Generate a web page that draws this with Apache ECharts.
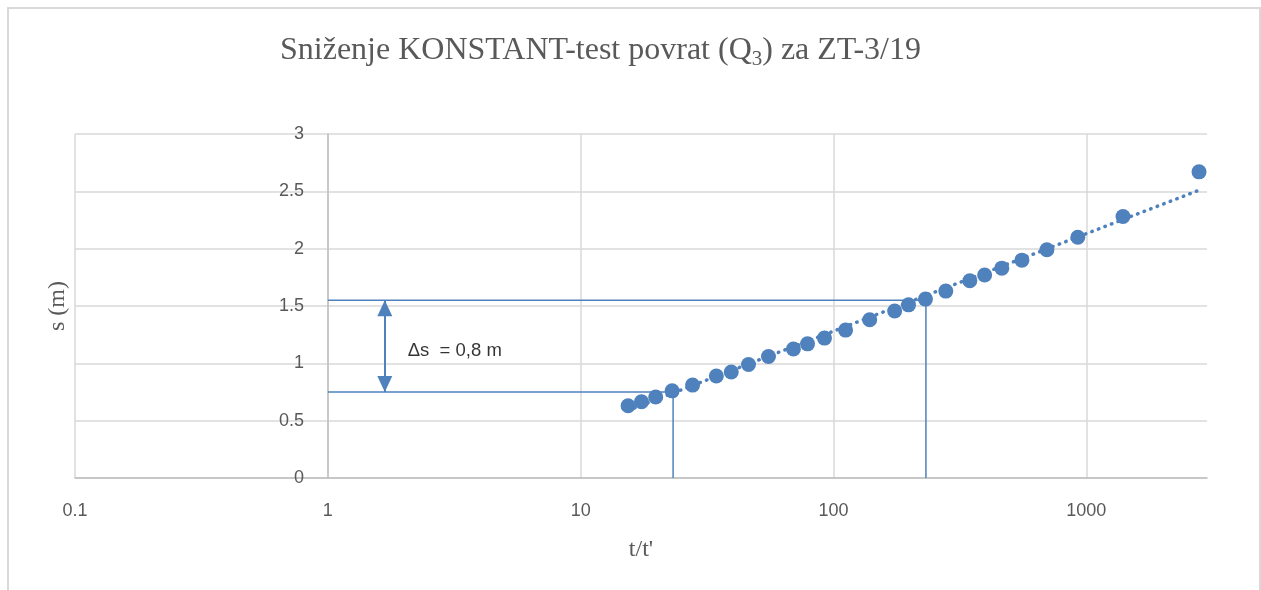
<!DOCTYPE html>
<html>
<head>
<meta charset="utf-8">
<script src="https://cdn.jsdelivr.net/npm/echarts@6/dist/echarts.min.js"></script>
<style>
html, body { margin: 0; padding: 0; background: #fff; }
#chart { width: 1261px; height: 590px; }
</style>
</head>
<body>
<div id="chart"></div>
<script>
// mjerenja: t/t' i sniženje s (m)
var tRatio = [15.4, 17.4, 19.8, 23.0, 27.7, 34.4, 39.4, 46.1, 55.3, 69.4, 78.9, 92.1, 111.6,
              139, 174.5, 198, 231, 278, 346, 396, 463, 556, 698, 925, 1396, 2790];
var drawdown = [0.63, 0.665, 0.706, 0.76, 0.81, 0.89, 0.925, 0.99, 1.06, 1.125, 1.17, 1.22, 1.29,
                1.38, 1.456, 1.51, 1.56, 1.63, 1.72, 1.77, 1.83, 1.90, 1.99, 2.10, 2.28, 2.67];

// logaritamski trend (krajnje tocke)
var trendT = [15.4, 2790];
var trendS = [0.59, 2.51];

// pomocne linije za ocitanje Δs
var upperT = [1, 232, 232];
var upperS = [1.55, 1.55, 0];
var lowerT = [1, 23.2, 23.2];
var lowerS = [0.75, 0.75, 0];
var arrowT = 1.68;
var arrowS = [1.55, 0.75];
var noteT = 2.07;
var noteS = 1.107;
var noteText = 'Δs  = 0,8 m';

var blue = '#4f81bd';

function pairs(xs, ys) {
    return xs.map(function (x, i) { return [x, ys[i]]; });
}

var myChart = echarts.init(document.getElementById('chart'));

var option = {
    backgroundColor: '#fff',
    animation: false,
    title: {
        text: 'Sniženje KONSTANT-test povrat (Q{sub|3}) za ZT-3/19',
        left: 275,
        top: 26,
        textStyle: {
            fontFamily: 'Liberation Serif',
            fontSize: 32,
            fontWeight: 'normal',
            color: '#595959',
            rich: {
                sub: { fontFamily: 'Liberation Serif', fontSize: 21, color: '#595959', padding: [18, 0, 0, 0] }
            }
        }
    },
    graphic: [{
        type: 'rect',
        shape: { x: 8, y: 8, width: 1252, height: 600 },
        style: { fill: 'none', stroke: '#d9d9d9', lineWidth: 2 },
        silent: true
    }],
    grid: { left: 75, right: 54, top: 134, bottom: 112 },
    xAxis: {
        type: 'log',
        logBase: 10,
        min: 0.1,
        max: 3000,
        name: "t/t'",
        nameLocation: 'middle',
        nameGap: 60,
        nameTextStyle: { fontFamily: 'Liberation Serif', fontSize: 24, color: '#595959' },
        axisLine: { lineStyle: { color: '#bfbfbf', width: 1.5 } },
        axisTick: { show: false },
        axisLabel: {
            margin: 24,
            showMaxLabel: false,
            fontFamily: 'Liberation Sans',
            fontSize: 18,
            color: '#595959',
            formatter: function (v) { return String(Number(v.toPrecision(6))); }
        },
        splitLine: { show: true, showMaxLine: false, lineStyle: { color: '#d9d9d9', width: 1.5 } },
        minorTick: { show: false }
    },
    yAxis: {
        type: 'value',
        min: 0,
        max: 3,
        interval: 0.5,
        offset: -253,
        name: 's (m)',
        nameLocation: 'middle',
        nameGap: 258,
        nameTextStyle: { fontFamily: 'Liberation Serif', fontSize: 24, color: '#595959' },
        axisLine: { show: true, onZero: false, lineStyle: { color: '#bfbfbf', width: 1.5 } },
        axisTick: { show: false },
        axisLabel: { margin: 24, fontFamily: 'Liberation Sans', fontSize: 18, color: '#595959' },
        splitLine: { lineStyle: { color: '#d9d9d9', width: 1.5 } }
    },
    series: [
        {
            name: 'trend',
            type: 'line',
            data: pairs(trendT, trendS),
            showSymbol: false,
            symbol: 'none',
            lineStyle: { color: blue, width: 3.5, type: [0.5, 6.5], cap: 'round' },
            z: 2
        },
        {
            name: 's',
            type: 'scatter',
            data: pairs(tRatio, drawdown),
            symbolSize: 15,
            itemStyle: { color: blue, opacity: 1 },
            z: 3
        },
        {
            name: 'gornja',
            type: 'line',
            data: pairs(upperT, upperS),
            symbol: 'none',
            lineStyle: { color: blue, width: 1.5 },
            z: 4
        },
        {
            name: 'donja',
            type: 'line',
            data: pairs(lowerT, lowerS),
            symbol: 'none',
            lineStyle: { color: blue, width: 1.5 },
            z: 4,
            markLine: {
                silent: true,
                symbol: ['triangle', 'triangle'],
                symbolSize: [15, 16],
                symbolOffset: [[0, 8], [0, 8]],
                label: { show: false },
                lineStyle: { color: blue, width: 2, type: 'solid' },
                data: [[{ coord: [arrowT, arrowS[0]] }, { coord: [arrowT, arrowS[1]] }]]
            }
        },
        {
            name: 'oznaka',
            type: 'scatter',
            data: [[noteT, noteS]],
            symbolSize: 0,
            label: {
                show: true,
                position: 'right',
                distance: 0,
                formatter: noteText,
                fontFamily: 'Liberation Sans',
                fontSize: 18.5,
                color: '#000'
            },
            z: 5
        }
    ]
};

myChart.setOption(option);
</script>
</body>
</html>
